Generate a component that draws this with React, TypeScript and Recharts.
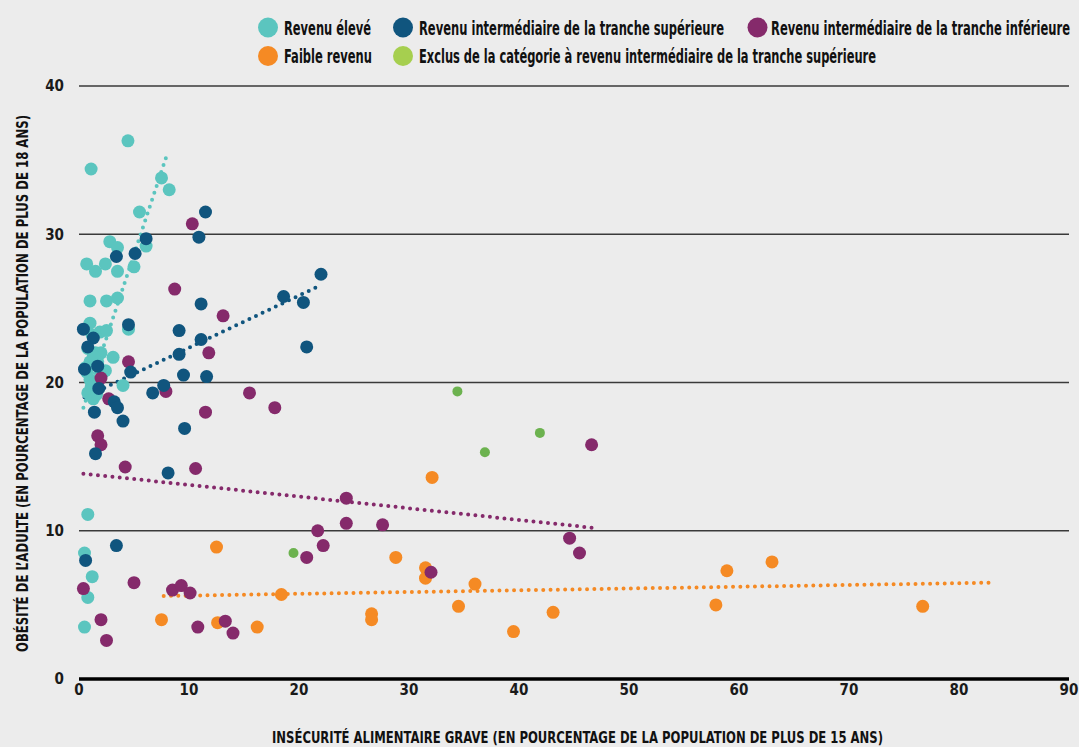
import React from 'react';
import { ScatterChart, Scatter, XAxis, YAxis, CartesianGrid, ReferenceLine } from 'recharts';

const FONT = '"Liberation Sans Narrow", "DejaVu Sans Condensed", "Noto Sans", sans-serif';

// ---------- data ----------
const seriesNames = [
  'Revenu élevé',
  'Revenu intermédiaire de la tranche supérieure',
  'Revenu intermédiaire de la tranche inférieure',
  'Faible revenu',
  'Exclus de la catégorie à revenu intermédiaire de la tranche supérieure',
];

const seriesColors = ['#5bc5bf', '#10557e', '#852a6b', '#f58a24', '#6cb24f'];
const legendColors = ['#5bc5bf', '#10557e', '#852a6b', '#f58a24', '#a6cf4f'];

const xTicks = [0, 10, 20, 30, 40, 50, 60, 70, 80, 90];
const yTicks = [0, 10, 20, 30, 40];

const xTitle = 'INSÉCURITÉ ALIMENTAIRE GRAVE (EN POURCENTAGE DE LA POPULATION DE PLUS DE 15 ANS)';
const yTitle = "OBÉSITÉ DE L’ADULTE (EN POURCENTAGE DE LA POPULATION DE PLUS DE 18 ANS)";

// [insécurité alimentaire grave %, obésité %]
const highIncome: [number, number][] = [
  [4.45, 36.3], [1.1, 34.4], [7.5, 33.8], [8.2, 33.0], [5.5, 31.5], [2.8, 29.5], [3.5, 29.1],
  [6.1, 29.2], [0.7, 28.0], [1.5, 27.5], [2.4, 28.0], [3.5, 27.5], [5.0, 27.8], [1.0, 25.5],
  [2.5, 25.5], [3.5, 25.7], [4.5, 23.6], [1.0, 24.0], [1.9, 23.4], [2.5, 23.5], [1.2, 23.2],
  [1.5, 22.0], [2.0, 22.0], [0.8, 22.3], [3.1, 21.7], [1.0, 21.4], [1.7, 21.4], [1.3, 21.8],
  [2.2, 20.7], [0.7, 20.7], [0.6, 21.0], [1.0, 20.2], [1.5, 20.0], [2.4, 20.8], [4.0, 19.8],
  [1.1, 19.7], [0.8, 19.3], [1.3, 18.9], [1.6, 19.2], [0.8, 11.1], [0.5, 8.5], [1.2, 6.9],
  [0.8, 5.5], [0.5, 3.5],
];

const upperMiddle: [number, number][] = [
  [11.5, 31.5], [10.9, 29.8], [6.1, 29.7], [3.4, 28.5], [5.1, 28.7], [11.1, 25.3], [4.5, 23.9],
  [0.4, 23.6], [1.3, 23.0], [0.8, 22.4], [9.1, 23.5], [11.1, 22.9], [9.1, 21.9], [0.5, 20.9],
  [1.7, 21.1], [4.7, 20.7], [9.5, 20.5], [11.6, 20.4], [1.8, 19.6], [7.7, 19.8], [6.7, 19.3],
  [3.2, 18.7], [3.5, 18.3], [1.4, 18.0], [4.0, 17.4], [9.6, 16.9], [1.5, 15.2], [8.1, 13.9],
  [3.4, 9.0], [0.6, 8.0], [18.6, 25.8], [20.4, 25.4], [22.0, 27.3], [20.7, 22.4],
];

const lowerMiddle: [number, number][] = [
  [10.3, 30.7], [8.7, 26.3], [13.1, 24.5], [11.8, 22.0], [4.5, 21.4], [2.0, 20.3], [7.9, 19.4],
  [2.7, 18.9], [11.5, 18.0], [1.7, 16.4], [2.0, 15.8], [4.2, 14.3], [10.6, 14.2], [15.5, 19.3],
  [17.8, 18.3], [24.3, 12.2], [24.3, 10.5], [27.6, 10.4], [21.7, 10.0], [22.2, 9.0], [20.7, 8.2],
  [46.6, 15.8], [44.6, 9.5], [45.5, 8.5], [32.0, 7.2], [0.4, 6.1], [5.0, 6.5], [8.5, 6.0],
  [9.3, 6.3], [10.1, 5.8], [2.0, 4.0], [2.5, 2.6], [10.8, 3.5], [13.3, 3.9], [14.0, 3.1],
];

const lowIncome: [number, number][] = [
  [12.5, 8.9], [7.5, 4.0], [12.6, 3.8], [16.2, 3.5], [18.4, 5.7], [26.6, 4.4], [26.6, 4.0],
  [28.8, 8.2], [31.5, 7.5], [31.5, 6.8], [32.1, 13.6], [34.5, 4.9], [36.0, 6.4], [39.5, 3.2],
  [43.1, 4.5], [57.9, 5.0], [58.9, 7.3], [63.0, 7.9], [76.7, 4.9],
];

const excluded: [number, number][] = [
  [19.5, 8.5], [34.4, 19.4], [36.9, 15.3], [41.9, 16.6],
];

// trend lines: [start, end]
const trendHigh: [number, number][] = [[0.4, 18.3], [8.1, 35.6]];
const trendUpper: [number, number][] = [[0.5, 19.0], [21.8, 26.5]];
const trendLower: [number, number][] = [[0.4, 13.85], [46.7, 10.2]];
const trendLow: [number, number][] = [[7.7, 5.6], [83.2, 6.5]];

// ---------- helpers ----------
const toPoints = (arr: [number, number][]) => arr.map(([x, y]) => ({ x, y }));

const dot = (color: string, r: number) => (props: any) => (
  <circle cx={props.cx} cy={props.cy} r={r} fill={color} />
);

const legendLayout = [
  { cx: 268, cy: 27.5, tx: 284, w: 87 },
  { cx: 403, cy: 27.5, tx: 419, w: 305 },
  { cx: 757.5, cy: 27.5, tx: 771, w: 299 },
  { cx: 268, cy: 56, tx: 284, w: 88 },
  { cx: 403, cy: 56, tx: 419, w: 457 },
];

const trendLines = [
  { pts: trendHigh, color: seriesColors[0] },
  { pts: trendUpper, color: seriesColors[1] },
  { pts: trendLower, color: seriesColors[2] },
  { pts: trendLow, color: seriesColors[3] },
];

export default function App() {
  return (
    <div
      style={{
        position: 'absolute',
        left: 0,
        top: 0,
        width: 1079,
        height: 747,
        background: '#ececec',
        overflow: 'hidden',
      }}
    >
      <ScatterChart
        width={1079}
        height={747}
        margin={{ top: 86, right: 10, bottom: 0, left: 0 }}
      >
        <CartesianGrid vertical={false} stroke="#3a3a3a" strokeWidth={1.6} />
        <XAxis
          type="number"
          dataKey="x"
          domain={[0, 90]}
          ticks={xTicks}
          height={68}
          tickLine={false}
          tickSize={0}
          tickMargin={5}
          axisLine={{ stroke: '#000', strokeWidth: 3.5 }}
          tick={{ fontSize: 15, fill: '#1a1a1a', fontFamily: FONT, fontWeight: 600 }}
          interval={0}
        />
        <YAxis
          type="number"
          dataKey="y"
          domain={[0, 40]}
          ticks={yTicks}
          width={79}
          tickLine={false}
          tickSize={0}
          tickMargin={15}
          axisLine={false}
          tick={{ fontSize: 15, fill: '#1a1a1a', fontFamily: FONT, fontWeight: 600 }}
          interval={0}
        />
        <Scatter name={seriesNames[3]} data={toPoints(lowIncome)} shape={dot(seriesColors[3], 6.5)} isAnimationActive={false} />
        <Scatter name={seriesNames[4]} data={toPoints(excluded)} shape={dot(seriesColors[4], 5)} isAnimationActive={false} />
        <Scatter name={seriesNames[0]} data={toPoints(highIncome)} shape={dot(seriesColors[0], 6.5)} isAnimationActive={false} />
        <Scatter name={seriesNames[2]} data={toPoints(lowerMiddle)} shape={dot(seriesColors[2], 6.5)} isAnimationActive={false} />
        <Scatter name={seriesNames[1]} data={toPoints(upperMiddle)} shape={dot(seriesColors[1], 6.5)} isAnimationActive={false} />
        {trendLines.map((t, i) => (
          <ReferenceLine
            key={i}
            segment={[
              { x: t.pts[0][0], y: t.pts[0][1] },
              { x: t.pts[1][0], y: t.pts[1][1] },
            ]}
            stroke={t.color}
            strokeWidth={4}
            strokeDasharray="0 7.3"
            strokeLinecap="round"
            ifOverflow="visible"
          />
        ))}
      </ScatterChart>

      <svg
        width={1079}
        height={747}
        style={{ position: 'absolute', left: 0, top: 0, pointerEvents: 'none' }}
      >
        {seriesNames.map((name, i) => {
          const l = legendLayout[i];
          return (
            <g key={name}>
              <circle cx={l.cx} cy={l.cy} r={10} fill={legendColors[i]} />
              <text
                x={l.tx}
                y={l.cy + 7}
                fontFamily={FONT}
                fontSize={19}
                fontWeight={600}
                fill="#111"
                textLength={l.w}
                lengthAdjust="spacingAndGlyphs"
              >
                {name}
              </text>
            </g>
          );
        })}
        <text
          x={577.5}
          y={743}
          textAnchor="middle"
          fontFamily={FONT}
          fontSize={16}
          fontWeight={600}
          fill="#111"
          textLength={611}
          lengthAdjust="spacingAndGlyphs"
        >
          {xTitle}
        </text>
        <text
          x={0}
          y={0}
          transform="translate(28 383.5) rotate(-90)"
          textAnchor="middle"
          fontFamily={FONT}
          fontSize={16}
          fontWeight={600}
          fill="#111"
          textLength={537}
          lengthAdjust="spacingAndGlyphs"
        >
          {yTitle}
        </text>
      </svg>
    </div>
  );
}
